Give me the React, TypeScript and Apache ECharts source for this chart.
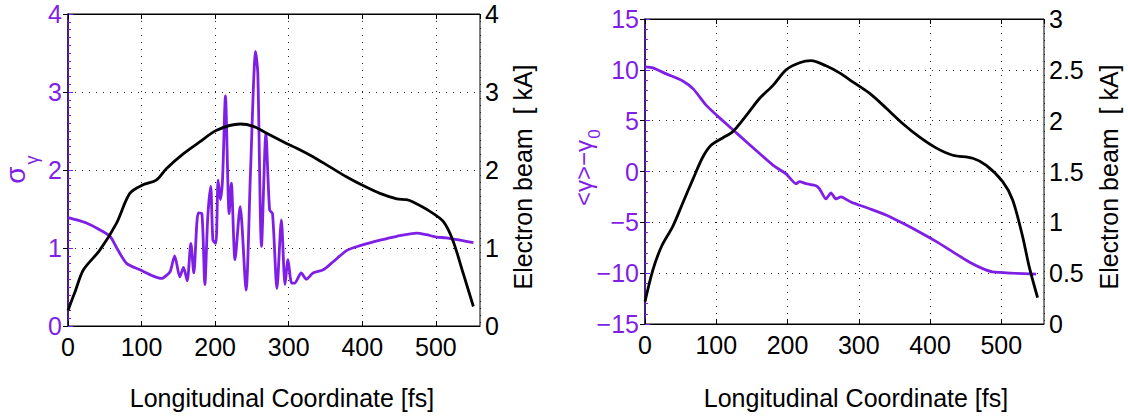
import React, { useEffect, useRef } from "react";
import * as echarts from "echarts";

// ---- Left panel: sigma_gamma and electron beam current ----
const leftSigmaX = [0, 12, 25, 40, 57, 68, 80, 98, 116, 127, 134, 139, 145, 152, 157, 162, 167, 171, 177, 182, 186, 190, 194, 197, 201, 204, 207, 210, 214, 219, 222, 227, 234, 242, 248, 255, 258, 263, 269, 274, 278, 284, 290, 295, 299, 304, 308, 317, 324, 333, 347, 360, 379, 397, 424, 447, 474, 487, 501, 514, 533, 551];
const leftSigmaY = [1.39, 1.36, 1.32, 1.25, 1.15, 0.97, 0.8, 0.72, 0.64, 0.61, 0.65, 0.7, 0.9, 0.63, 0.75, 0.58, 1.06, 0.68, 1.45, 1.44, 0.53, 1.4, 1.79, 1.1, 1.06, 1.87, 1.62, 1.87, 2.95, 1.44, 1.83, 0.85, 1.53, 0.46, 1.96, 3.52, 3.24, 1.02, 2.47, 1.49, 1.44, 0.48, 1.36, 0.53, 0.85, 0.55, 0.55, 0.68, 0.6, 0.68, 0.72, 0.82, 0.97, 1.03, 1.1, 1.15, 1.19, 1.17, 1.14, 1.13, 1.1, 1.07];
const leftCurrentX = [0, 10, 21, 43, 66, 84, 102, 120, 134, 157, 179, 202, 234, 252, 270, 293, 315, 333, 356, 379, 401, 424, 447, 460, 469, 492, 510, 523, 537, 551];
const leftCurrentY = [0.2, 0.45, 0.72, 0.97, 1.32, 1.7, 1.81, 1.87, 2.02, 2.21, 2.36, 2.51, 2.59, 2.56, 2.47, 2.36, 2.26, 2.17, 2.04, 1.91, 1.8, 1.7, 1.63, 1.62, 1.59, 1.47, 1.34, 1.1, 0.68, 0.25];

// ---- Right panel: <gamma>-gamma0 and electron beam current ----
const rightGammaX = [0, 11, 30, 53, 68, 86, 109, 133, 156, 180, 198, 212, 217, 226, 240, 245, 254, 261, 268, 275, 289, 315, 339, 362, 385, 409, 432, 455, 474, 488, 516, 549];
const rightGammaY = [10.3, 10.2, 9.6, 8.9, 8.1, 6.5, 5.0, 3.5, 2.06, 0.6, -0.23, -1.2, -1.0, -1.2, -1.4, -1.7, -2.7, -2.1, -2.7, -2.5, -3.0, -3.66, -4.3, -5.1, -5.95, -6.9, -7.9, -8.9, -9.55, -9.87, -10.0, -10.1];
const rightCurrentX = [0, 11, 23, 39, 53, 67, 81, 93, 109, 123, 142, 161, 180, 198, 217, 233, 254, 273, 292, 315, 339, 362, 385, 409, 432, 460, 479, 502, 516, 530, 539, 551];
const rightCurrentY = [0.22, 0.53, 0.76, 0.96, 1.19, 1.42, 1.64, 1.76, 1.83, 1.89, 2.05, 2.22, 2.35, 2.5, 2.57, 2.59, 2.54, 2.47, 2.38, 2.27, 2.12, 1.97, 1.84, 1.73, 1.66, 1.63, 1.56, 1.4, 1.22, 0.86, 0.57, 0.26];

// ---- Axis texts ----
const xAxisTitle = "Longitudinal Coordinate [fs]";
const currentTitle = "Electron beam  [ kA]";

const PURPLE = "#7f1fe6";
const DARK_AXIS = "#2d1b5e";
const FONT = "Liberation Sans, Arial, sans-serif";

const zip = (xs: number[], ys: number[]) => xs.map((x, i) => [x, ys[i]]);

const dotted = { show: true, lineStyle: { color: "#222", width: 1, type: [1, 6] as any } };

function xAxisCfg(gridIndex: number, position: "bottom" | "top", labels: boolean, split: boolean) {
  return {
    type: "value",
    gridIndex,
    position,
    min: 0,
    max: 560,
    interval: 100,
    axisLine: { show: true, onZero: false, lineStyle: { color: "#000", width: 1 } },
    axisTick: { show: true, inside: true, length: 5, lineStyle: { color: "#000" } },
    axisLabel: {
      show: labels,
      color: "#000",
      fontSize: 25,
      fontFamily: FONT,
      margin: 8,
      showMaxLabel: false,
    },
    splitLine: split ? dotted : { show: false },
  };
}

export default function App() {
  const ref = useRef<HTMLDivElement>(null);
  useEffect(() => {
    if (!ref.current) return;
    const chart = echarts.init(ref.current, null, { renderer: "svg" });
    const option: any = {
      animation: false,
      backgroundColor: "#fff",
      grid: [
        { left: 68, top: 14, width: 412, height: 312, show: true, borderColor: "#000", borderWidth: 1, backgroundColor: "transparent" },
        { left: 645, top: 19, width: 399, height: 305, show: true, borderColor: "#000", borderWidth: 1, backgroundColor: "transparent" },
      ],
      xAxis: [
        xAxisCfg(0, "bottom", true, true),
        xAxisCfg(0, "top", false, false),
        xAxisCfg(1, "bottom", true, true),
        xAxisCfg(1, "top", false, false),
      ],
      yAxis: [
        {
          type: "value", gridIndex: 0, position: "left", min: 0, max: 4, interval: 1,
          axisLine: { show: true, lineStyle: { color: PURPLE, width: 1.5 } },
          axisTick: { show: true, inside: true, length: 5, lineStyle: { color: PURPLE } },
          minorTick: { show: true, splitNumber: 10, length: 3, lineStyle: { color: PURPLE } },
          axisLabel: { color: PURPLE, fontSize: 25, fontFamily: FONT, margin: 6 },
          splitLine: dotted,
        },
        {
          type: "value", gridIndex: 0, position: "right", min: 0, max: 4, interval: 1,
          axisLine: { show: true, lineStyle: { color: DARK_AXIS, width: 1.5 } },
          axisTick: { show: true, inside: true, length: 5, lineStyle: { color: "#000" } },
          axisLabel: { color: "#000", fontSize: 25, fontFamily: FONT, margin: 5 },
          splitLine: { show: false },
        },
        {
          type: "value", gridIndex: 1, position: "left", min: -15, max: 15, interval: 5,
          axisLine: { show: true, lineStyle: { color: PURPLE, width: 1.5 } },
          axisTick: { show: true, inside: true, length: 5, lineStyle: { color: PURPLE } },
          minorTick: { show: true, splitNumber: 5, length: 3, lineStyle: { color: PURPLE } },
          axisLabel: {
            color: PURPLE, fontSize: 25, fontFamily: FONT, margin: 6,
            formatter: (v: number) => String(v).replace("-", "\u2212"),
          },
          splitLine: dotted,
        },
        {
          type: "value", gridIndex: 1, position: "right", min: 0, max: 3, interval: 0.5,
          axisLine: { show: true, lineStyle: { color: DARK_AXIS, width: 1.5 } },
          axisTick: { show: true, inside: true, length: 5, lineStyle: { color: "#000" } },
          axisLabel: { color: "#000", fontSize: 25, fontFamily: FONT, margin: 5 },
          splitLine: { show: false },
        },
      ],
      series: [
        {
          type: "line", xAxisIndex: 0, yAxisIndex: 0, data: zip(leftSigmaX, leftSigmaY),
          showSymbol: false, smooth: 0.25, lineStyle: { color: PURPLE, width: 2.8 },
        },
        {
          type: "line", xAxisIndex: 0, yAxisIndex: 1, data: zip(leftCurrentX, leftCurrentY),
          showSymbol: false, smooth: 0.3, lineStyle: { color: "#000", width: 2.8 },
        },
        {
          type: "line", xAxisIndex: 2, yAxisIndex: 2, data: zip(rightGammaX, rightGammaY),
          showSymbol: false, smooth: 0.2, lineStyle: { color: PURPLE, width: 2.8 },
        },
        {
          type: "line", xAxisIndex: 2, yAxisIndex: 3, data: zip(rightCurrentX, rightCurrentY),
          showSymbol: false, smooth: 0.3, lineStyle: { color: "#000", width: 2.8 },
        },
      ],
      graphic: [
        // left panel titles
        { type: "text", x: 15, y: 175, rotation: Math.PI / 2, style: { text: "σ", fill: PURPLE, fontSize: 28, fontFamily: FONT, align: "center", verticalAlign: "middle" } },
        { type: "text", x: 32, y: 160, rotation: Math.PI / 2, style: { text: "γ", fill: PURPLE, fontSize: 18, fontFamily: FONT, align: "center", verticalAlign: "middle" } },
        { type: "text", x: 523, y: 177, rotation: Math.PI / 2, style: { text: currentTitle, fill: "#000", fontSize: 25, fontFamily: FONT, align: "center", verticalAlign: "middle" } },
        { type: "text", x: 282, y: 398, style: { text: xAxisTitle, fill: "#000", fontSize: 25, fontFamily: FONT, align: "center", verticalAlign: "middle" } },
        // right panel titles
        { type: "text", x: 583, y: 173, rotation: Math.PI / 2, style: { text: "<γ>−γ", fill: PURPLE, fontSize: 24, fontFamily: FONT, align: "center", verticalAlign: "middle" } },
        { type: "text", x: 594, y: 134, rotation: Math.PI / 2, style: { text: "0", fill: PURPLE, fontSize: 17, fontFamily: FONT, align: "center", verticalAlign: "middle" } },
        { type: "text", x: 1109, y: 177, rotation: Math.PI / 2, style: { text: currentTitle, fill: "#000", fontSize: 25, fontFamily: FONT, align: "center", verticalAlign: "middle" } },
        { type: "text", x: 856, y: 398, style: { text: xAxisTitle, fill: "#000", fontSize: 25, fontFamily: FONT, align: "center", verticalAlign: "middle" } },
      ],
    };
    chart.setOption(option);
    return () => chart.dispose();
  }, []);
  return <div ref={ref} style={{ position: "fixed", left: 0, top: 0, width: 1128, height: 417, background: "#fff" }} />;
}
